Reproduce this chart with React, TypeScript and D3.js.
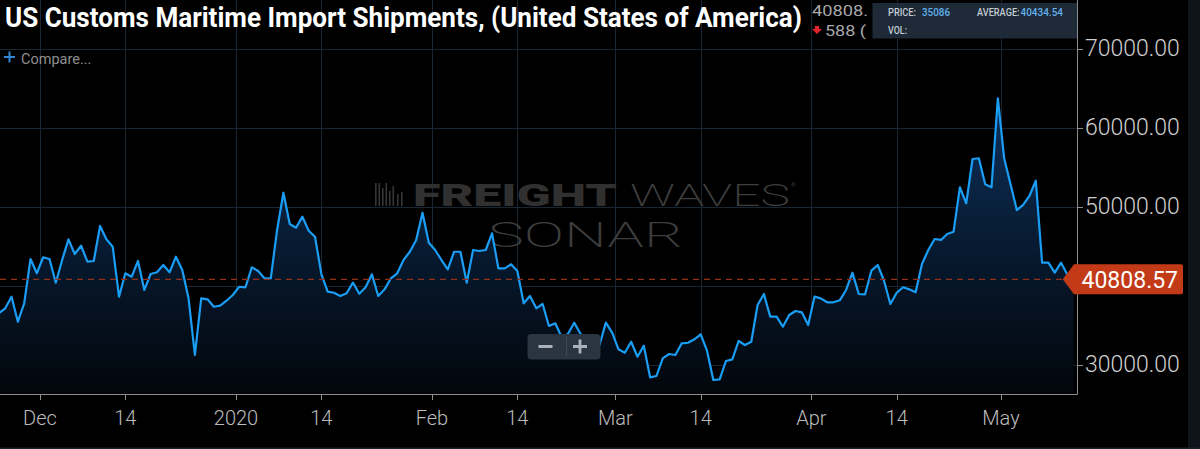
import * as React from 'react'
import { useEffect, useRef } from 'react'
import * as d3 from 'd3'

// daily values, first point = 2019-11-24
const firstDay = Date.UTC(2019, 10, 24, 12)
const shipments = [
  36510,
  37140, 38610, 35440, 37770, 43380, 41570, 43600, 43380, 40380, 43250,
  45870, 44010, 45060, 43040, 43130, 47560, 45870, 44940, 38610, 41570,
  41140, 43130, 39460, 41480, 41700, 42620, 41700, 43670, 41990, 38400,
  31230, 38400, 38280, 37340, 37470, 38100, 38820, 39870, 39800, 42330,
  41860, 40940, 40940, 47050, 51770, 47810, 47340, 48740, 46960, 46200,
  41480, 39240, 39110, 38700, 39040, 40400, 38990, 39800, 41440, 38700,
  39540, 40940, 41570, 43250, 44300, 45790, 49240, 45440, 44520, 43250,
  42080, 44300, 44300, 40380, 44520, 44390, 44520, 46630, 42200, 42200,
  42710, 41860, 37770, 38700, 37140, 37680, 34900, 35240, 33500, 33890,
  35320, 33890, 32870, 32110, 32490, 35320, 34050, 31950, 31520, 32910,
  31010, 32400, 28400, 28570, 30810, 31350, 31230, 32710, 32780, 33210,
  33850, 31770, 28060, 28150, 30470, 30680, 33000, 32490, 32910, 37560,
  38950, 36080, 36080, 34810, 36290, 36800, 36630, 35020, 38610, 38400,
  37900, 37900, 38150, 39460, 41650, 38950, 38910, 41900, 42620, 40630,
  37680, 39110, 39800, 39540, 39160, 42750, 44520, 45910, 45790, 46550,
  46840, 52460, 50430, 56040, 56130, 52840, 52460, 63730, 56130, 52880,
  49580, 50220, 51360, 53290, 42910, 42910, 41650, 42910, 41396.57, 40808.57,
]

const yTicks = [30000, 40000, 50000, 60000, 70000]
// 40000.00 sits under the last-value tag, so it gets no label
const yLabelTicks = [30000, 50000, 60000, 70000]
const xTickLabels = ['Dec', '14', '2020', '14', 'Feb', '14', 'Mar', '14', 'Apr', '14', 'May']
const xTickDates = [
  Date.UTC(2019, 11, 1), Date.UTC(2019, 11, 14, 12),
  Date.UTC(2020, 0, 1), Date.UTC(2020, 0, 14, 12),
  Date.UTC(2020, 1, 1), Date.UTC(2020, 1, 14, 12),
  Date.UTC(2020, 2, 1), Date.UTC(2020, 2, 14, 12),
  Date.UTC(2020, 3, 1), Date.UTC(2020, 3, 14, 12),
  Date.UTC(2020, 4, 1),
]

const title = 'US Customs Maritime Import Shipments, (United States of America)'
// header readout, partly hidden by the hover box in the original
const headValue = '40808.'
const headChange = '588 ('
const hoverPrice = '35086'
const average = '40434.54'

const W = 1200
const H = 449
const plotRight = 1077
const axisY = 394

const App = () => {
  const ref = useRef<HTMLDivElement | null>(null)

  useEffect(() => {
    document.body.style.margin = '0'
    document.body.style.background = '#000'

    const data = shipments.map((v, i) => ({ date: new Date(firstDay + i * 864e5), value: v }))
    const last = shipments[shipments.length - 1]

    const svg = d3.select(ref.current)
      .append('svg')
      .attr('width', W)
      .attr('height', H)
      .style('display', 'block')
      .style('background', '#000')
      .style('font-family', 'Roboto, sans-serif')

    const x = d3.scaleUtc()
      .domain([new Date(Date.UTC(2019, 11, 1)), new Date(Date.UTC(2020, 4, 1))])
      .range([40, 1001])
    const y = d3.scaleLinear().domain([30000, 70000]).range([364.7, 48.7])

    const defs = svg.append('defs')
    defs.append('clipPath').attr('id', 'plot-clip')
      .append('rect').attr('x', 0).attr('y', 0).attr('width', plotRight).attr('height', axisY)
    const grad = defs.append('linearGradient').attr('id', 'area-grad')
      .attr('gradientUnits', 'userSpaceOnUse')
      .attr('x1', 0).attr('x2', 0).attr('y1', 90).attr('y2', axisY)
    grad.append('stop').attr('offset', 0).attr('stop-color', '#0f3360')
    grad.append('stop').attr('offset', 0.45).attr('stop-color', '#081d36')
    grad.append('stop').attr('offset', 1).attr('stop-color', '#02060b')

    // grid
    const grid = svg.append('g').attr('stroke', '#1a2733').attr('stroke-width', 1)
    grid.selectAll('.vg').data(xTickDates).enter().append('line')
      .attr('x1', d => Math.round(x(new Date(d))) + 0.5)
      .attr('x2', d => Math.round(x(new Date(d))) + 0.5)
      .attr('y1', 0).attr('y2', axisY)
    grid.selectAll('.hg').data(yTicks).enter().append('line')
      .attr('x1', 0).attr('x2', plotRight)
      .attr('y1', d => Math.round(y(d)) + 0.5)
      .attr('y2', d => Math.round(y(d)) + 0.5)

    // watermark
    const wm = svg.append('g')
    const bars = [[0, 23], [3.5, 23], [7, 18], [10.5, 23], [14, 15], [17.5, 20], [22, 12], [26, 14]]
    wm.selectAll('rect').data(bars).enter().append('rect')
      .attr('x', d => 375 + d[0]).attr('y', d => 206 - d[1])
      .attr('width', 1.6).attr('height', d => d[1]).attr('fill', '#363636')
    wm.append('text').attr('x', 413).attr('y', 206)
      .attr('font-size', 32).attr('font-weight', 900).attr('fill', '#303030')
      .attr('textLength', 204).attr('lengthAdjust', 'spacingAndGlyphs')
      .text('FREIGHT')
    wm.append('text').attr('x', 630).attr('y', 206)
      .attr('font-size', 32).attr('font-weight', 200).attr('fill', '#3e3e3e')
      .attr('textLength', 160).attr('lengthAdjust', 'spacingAndGlyphs')
      .text('WAVES')
    wm.append('text').attr('x', 791).attr('y', 187)
      .attr('font-size', 6).attr('fill', '#3e3e3e').text('®')
    wm.append('text').attr('x', 488).attr('y', 247)
      .attr('font-size', 35).attr('font-weight', 200).attr('fill', '#3e3e3e')
      .attr('textLength', 195).attr('lengthAdjust', 'spacingAndGlyphs')
      .text('SONAR')

    // series
    const plot = svg.append('g').attr('clip-path', 'url(#plot-clip)')
    const area = d3.area<{ date: Date, value: number }>()
      .x(d => x(d.date)).y0(axisY).y1(d => y(d.value))
    const line = d3.line<{ date: Date, value: number }>()
      .x(d => x(d.date)).y(d => y(d.value))
    plot.append('path').datum(data).attr('d', area).attr('fill', 'url(#area-grad)')
    plot.append('path').datum(data).attr('d', line)
      .attr('fill', 'none').attr('stroke', '#1a9df4').attr('stroke-width', 2.2)
      .attr('stroke-linejoin', 'round')
    plot.append('line')
      .attr('x1', 0).attr('x2', plotRight)
      .attr('y1', y(last)).attr('y2', y(last))
      .attr('stroke', '#92301a').attr('stroke-width', 1.2).attr('stroke-dasharray', '6,5')

    // axes
    svg.append('line').attr('x1', 0).attr('x2', plotRight + 0.5)
      .attr('y1', axisY + 0.5).attr('y2', axisY + 0.5).attr('stroke', '#8d8d8d')
    svg.append('line').attr('x1', plotRight + 0.5).attr('x2', plotRight + 0.5)
      .attr('y1', 0).attr('y2', axisY + 0.5).attr('stroke', '#8d8d8d')

    const xt = svg.append('g')
    xt.selectAll('line').data(xTickDates).enter().append('line')
      .attr('x1', d => Math.round(x(new Date(d))) + 0.5)
      .attr('x2', d => Math.round(x(new Date(d))) + 0.5)
      .attr('y1', axisY).attr('y2', axisY + 6).attr('stroke', '#8d8d8d')
    xt.selectAll('text').data(xTickDates).enter().append('text')
      .attr('x', d => x(new Date(d))).attr('y', 425)
      .attr('text-anchor', 'middle').attr('font-size', 20).attr('font-weight', 300)
      .attr('fill', '#bcbcbc')
      .text((d, i) => xTickLabels[i])

    const yt = svg.append('g')
    yt.selectAll('line').data(yTicks).enter().append('line')
      .attr('x1', plotRight).attr('x2', plotRight + 6)
      .attr('y1', d => Math.round(y(d)) + 0.5).attr('y2', d => Math.round(y(d)) + 0.5)
      .attr('stroke', '#8d8d8d')
    yt.selectAll('text').data(yLabelTicks).enter().append('text')
      .attr('x', 1085).attr('y', d => y(d) + 7.5)
      .attr('font-size', 23).attr('font-weight', 300).attr('fill', '#cfcfcf')
      .text(d => d3.format('.2f')(d))

    // header: title squeezed to the condensed width of the original
    const titleText = svg.append('text').attr('x', 0).attr('y', 0)
      .attr('font-size', 28).attr('font-weight', 700).attr('fill', '#fff')
      .text(title)
    const natural = (titleText.node() as SVGTextElement).getComputedTextLength() || 985
    titleText.attr('transform', `translate(5,27) scale(${797 / natural},1)`)

    svg.append('path').attr('d', 'M4 57 H15 M9.5 51.5 V62.5')
      .attr('stroke', '#2f84d8').attr('stroke-width', 2)
    svg.append('text').attr('x', 21).attr('y', 64)
      .attr('font-size', 14.5).attr('fill', '#8f8f8f').text('Compare...')

    svg.append('text').attr('x', 812).attr('y', 16)
      .attr('font-size', 15).attr('fill', '#a9a9a9')
      .attr('textLength', 56).attr('lengthAdjust', 'spacingAndGlyphs').text(headValue)
    svg.append('path').attr('d', 'M815 26 h4 v3 h3 l-5 5 l-5 -5 h3 z').attr('fill', '#e3242b')
    svg.append('text').attr('x', 825).attr('y', 36)
      .attr('font-size', 15).attr('fill', '#a9a9a9')
      .attr('textLength', 41).attr('lengthAdjust', 'spacingAndGlyphs').text(headChange)

    const tip = svg.append('g').attr('font-size', 10).attr('font-weight', 500)
    tip.append('rect').attr('x', 872.5).attr('y', 3).attr('width', 204.5).attr('height', 35.5)
      .attr('fill', '#1e2a37')
    tip.append('text').attr('x', 888).attr('y', 16).attr('fill', '#c3cbd3')
      .attr('textLength', 28).attr('lengthAdjust', 'spacingAndGlyphs').text('PRICE:')
    tip.append('text').attr('x', 922).attr('y', 16).attr('fill', '#62b0ee')
      .attr('textLength', 28).attr('lengthAdjust', 'spacingAndGlyphs').text(hoverPrice)
    tip.append('text').attr('x', 977).attr('y', 16).attr('fill', '#c3cbd3')
      .attr('textLength', 42.5).attr('lengthAdjust', 'spacingAndGlyphs').text('AVERAGE:')
    tip.append('text').attr('x', 1020.5).attr('y', 16).attr('fill', '#62b0ee')
      .attr('textLength', 42.5).attr('lengthAdjust', 'spacingAndGlyphs').text(average)
    tip.append('text').attr('x', 888).attr('y', 33.5).attr('fill', '#c3cbd3')
      .attr('textLength', 19).attr('lengthAdjust', 'spacingAndGlyphs').text('VOL:')

    // zoom control
    const zc = svg.append('g')
    zc.append('rect').attr('x', 527.5).attr('y', 334).attr('width', 73).attr('height', 25.5)
      .attr('rx', 4).attr('fill', '#2a3541')
    zc.append('line').attr('x1', 566.5).attr('x2', 566.5).attr('y1', 337).attr('y2', 356)
      .attr('stroke', '#3d4a58')
    zc.append('path').attr('d', 'M538.5 346.5 H552.5 M573 346.5 H587 M580 339.5 V353.5')
      .attr('stroke', '#a9b2bb').attr('stroke-width', 2.8)

    // last value tag
    const ly = y(last)
    svg.append('path')
      .attr('d', `M1062.7 ${ly} L1074 ${ly - 15} H1181 Q1183 ${ly - 15} 1183 ${ly - 13} V${ly + 13} Q1183 ${ly + 15} 1181 ${ly + 15} H1074 Z`)
      .attr('fill', '#c23a18')
    svg.append('text').attr('x', 1081.5).attr('y', ly + 8.5)
      .attr('font-size', 23).attr('fill', '#fff').text(d3.format('.2f')(last))

    // frame
    svg.append('rect').attr('x', 1188).attr('y', 0).attr('width', 12).attr('height', H).attr('fill', '#0e141a')
    svg.append('rect').attr('x', 0).attr('y', 447.5).attr('width', W).attr('height', 2).attr('fill', '#18222c')

    return () => {
      svg.remove()
    }
  }, [])

  return <div ref={ref} />
}

export default App
